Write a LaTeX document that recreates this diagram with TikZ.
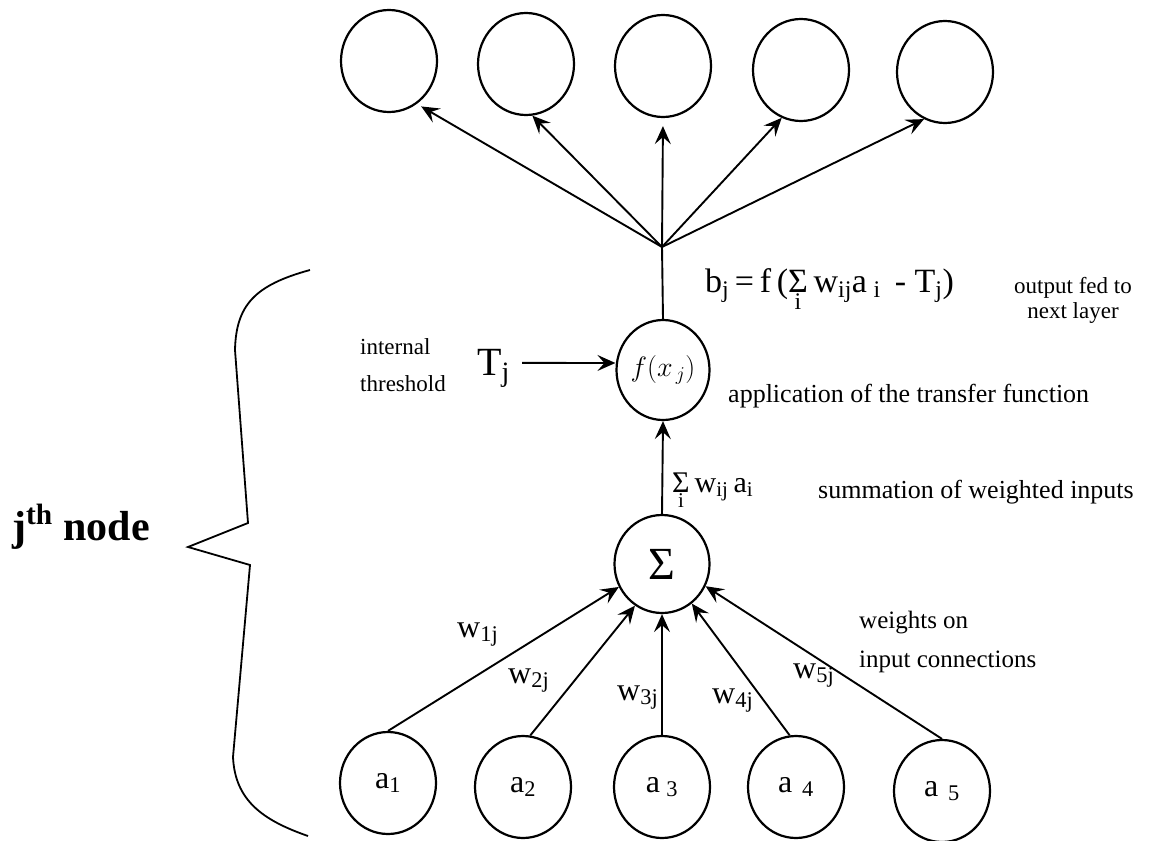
\documentclass[tikz,border=0pt]{standalone}
\usepackage{fix-cm}
\usepackage{fontspec}
\setmainfont{Liberation Serif}
\usetikzlibrary{shapes.geometric,arrows.meta}

% sum sign with its index set below, as in the formulas
\newcommand{\sumi}{\mathop{\hbox{Σ}}\limits_{\mathrm{i}}}

\tikzset{
  unit/.style={draw, ellipse, line width=2.2pt, minimum width=96pt, minimum height=102pt, inner sep=0pt},
  inp/.style={unit, font=\fontsize{32}{36}\selectfont},
  arr/.style={line width=1.9pt, -{Stealth[length=18pt,width=16pt,inset=7pt]}},
  note/.style={inner sep=0pt, font=\fontsize{26}{30}\selectfont},
  wlbl/.style={inner sep=0pt, anchor=base west, font=\fontsize{32}{36}\selectfont}
}

\begin{document}
\begin{tikzpicture}[x=1pt,y=-1pt]
\useasboundingbox (0,0) rectangle (1150,840);

% next layer
\node[unit] (out1) at (389,61) {};
\node[unit] (out2) at (526,64) {};
\node[unit] (out3) at (663,66) {};
\node[unit] (out4) at (801,70) {};
\node[unit] (out5) at (945,72) {};

% node j: transfer and summation
\node[unit, minimum width=93pt, minimum height=100pt] (fx) at (663,370) {\fontsize{28}{30}\selectfont $f(x_{\,j})$};
\node[unit, minimum width=95pt, minimum height=98pt] (sum) at (662,564) {\fontsize{46}{46}\selectfont Σ};
\coordinate (jn) at (662,247);

% inputs
\node[inp] (a1) at (388,783) {a$_{\mathrm{1}}$};
\node[inp] (a2) at (523,787) {a$_{\mathrm{2}}$};
\node[inp] (a3) at (662,787) {a$_{\;\mathrm{3}}$};
\node[inp] (a4) at (796,787) {a$_{\;\,\mathrm{4}}$};
\node[inp] (a5) at (942,791) {a$_{\;\,\mathrm{5}}$};

\node[inner sep=0pt, anchor=base west, font=\fontsize{40}{40}\selectfont] (thr) at (477,375) {T$_{\mathrm{j}}$};

% output fan
\draw[line width=1.9pt] (fx.north) -- (jn);
\draw[arr, shorten >=5pt] (jn) -- (out1.-57);
\draw[arr] (jn) -- (out2.-83);
\draw[arr, shorten >=8pt] (jn) -- (out3.south);
\draw[arr] (jn) -- (out4.-112);
\draw[arr] (jn) -- (out5.-114);

\draw[arr] (sum.north) -- (fx.south)
  node[note, pos=0.25, right=9pt, font=\fontsize{30}{34}\selectfont] (sumlbl) {$\sumi$\,w$_{\mathrm{ij}}$\,a$_{\mathrm{i}}$};
\draw[arr, shorten <=12pt] ([yshift=5pt]thr.east) -- ([yshift=7pt]fx.west);

% weighted inputs
\draw[arr] (a1.north) -- (sum.-152);
\draw[arr] (a2.82) -- (sum.-123);
\draw[arr] (a3.north) -- (sum.south);
\draw[arr] (a4.97) -- (sum.-53);
\draw[arr] (a5.north) -- (sum.-27);

\node[wlbl] (w1) at (457,637) {w$_{\mathrm{1j}}$};
\node[wlbl] (w2) at (508,683) {w$_{\mathrm{2j}}$};
\node[wlbl] (w3) at (617,700) {w$_{\mathrm{3j}}$};
\node[wlbl] (w4) at (712,703) {w$_{\mathrm{4j}}$};
\node[wlbl] (w5) at (793,678) {w$_{\mathrm{5j}}$};

% annotations
\node[note, anchor=base west, font=\fontsize{34}{38}\selectfont] (bj) at (705,292)
  {b$_{\mathrm{j}}$\,=\,f\,($\sumi$\,w$_{\mathrm{ij}}$a$_{\;\mathrm{i}}$\, - T$_{\mathrm{j}}$)};
\node[note, align=center, anchor=north, font=\fontsize{23}{25}\selectfont] (outnote) at (1073,277) {output fed to\\next layer};
\node[note, align=left, anchor=north west, font=\fontsize{23}{37}\selectfont] (thrnote) at (360,338) {internal\\threshold};
\node[note, anchor=base west] (appnote) at (728,402) {application of the transfer function};
\node[note, anchor=base west] (sumnote) at (818,498) {summation of weighted inputs};
\node[note, align=left, anchor=north west, font=\fontsize{25}{39}\selectfont] (wnote) at (859,611) {weights on\\input connections};

% brace round node j
\draw[line width=1.8pt] (310,270) .. controls (255,285) and (236,305) .. (235,350)
  -- (248,523) -- (188,547) -- (250,565) -- (233,757)
  .. controls (235,800) and (262,820) .. (308,836);
\node[inner sep=0pt, anchor=base west, font=\fontsize{42}{46}\selectfont\bfseries] (jlbl) at (12,540) {j\textsuperscript{th} node};
\end{tikzpicture}
\end{document}
